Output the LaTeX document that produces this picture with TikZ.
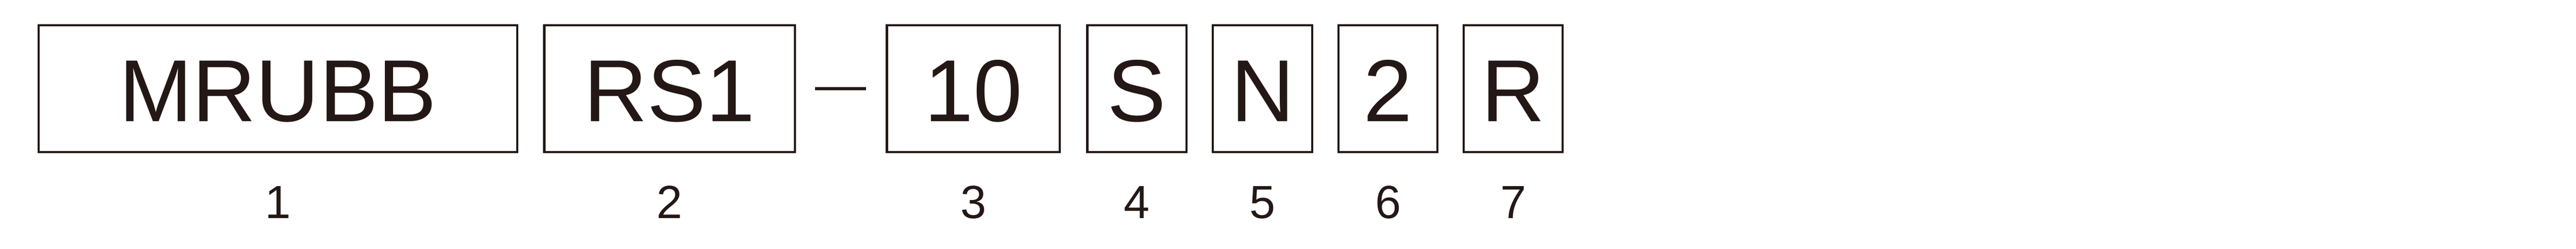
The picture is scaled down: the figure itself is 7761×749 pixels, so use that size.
\documentclass[tikz,border=0pt]{standalone}
\usepackage{fontspec}
\setmainfont{Liberation Sans}
\definecolor{ink}{RGB}{35,24,21}
\begin{document}
\begin{tikzpicture}[x=0.1pt,y=-0.1pt,
  codebox/.style={draw=ink, line width=0.65pt, inner sep=0pt, minimum height=38.2pt,
    text height=19.8pt, text depth=0pt,
    text=ink, font=\fontsize{26.5pt}{26.5pt}\selectfont},
  numlabel/.style={inner sep=0pt, text=ink, text height=10.1pt, text depth=0pt,
    font=\fontsize{14pt}{14pt}\selectfont}]
\useasboundingbox (0,0) rectangle (7761,749);
\node[codebox, minimum width=144.1pt] (b1) at (837.5,267) {MRUBB};
\node[codebox, minimum width=75.5pt] (b2) at (2017.5,267) {RS1};
\node[codebox, minimum width=52.1pt] (b3) at (2932.5,267) {10};
\node[codebox, minimum width=29.9pt] (b4) at (3425.5,267) {S};
\node[codebox, minimum width=30.0pt] (b5) at (3804,267) {N};
\node[codebox, minimum width=29.8pt] (b6) at (4182,267) {2};
\node[codebox, minimum width=29.8pt] (b7) at (4559,267) {R};
\draw[ink, line width=0.8pt] ([xshift=5.7pt]b2.east) -- ([xshift=-5.9pt]b3.west);
\node[numlabel] (n1) at (837.5,606.5) {1};
\node[numlabel] (n2) at (2017.5,606.5) {2};
\node[numlabel] (n3) at (2932.5,606.5) {3};
\node[numlabel] (n4) at (3425.5,606.5) {4};
\node[numlabel] (n5) at (3804,606.5) {5};
\node[numlabel] (n6) at (4182,606.5) {6};
\node[numlabel] (n7) at (4559,606.5) {7};
\end{tikzpicture}
\end{document}
